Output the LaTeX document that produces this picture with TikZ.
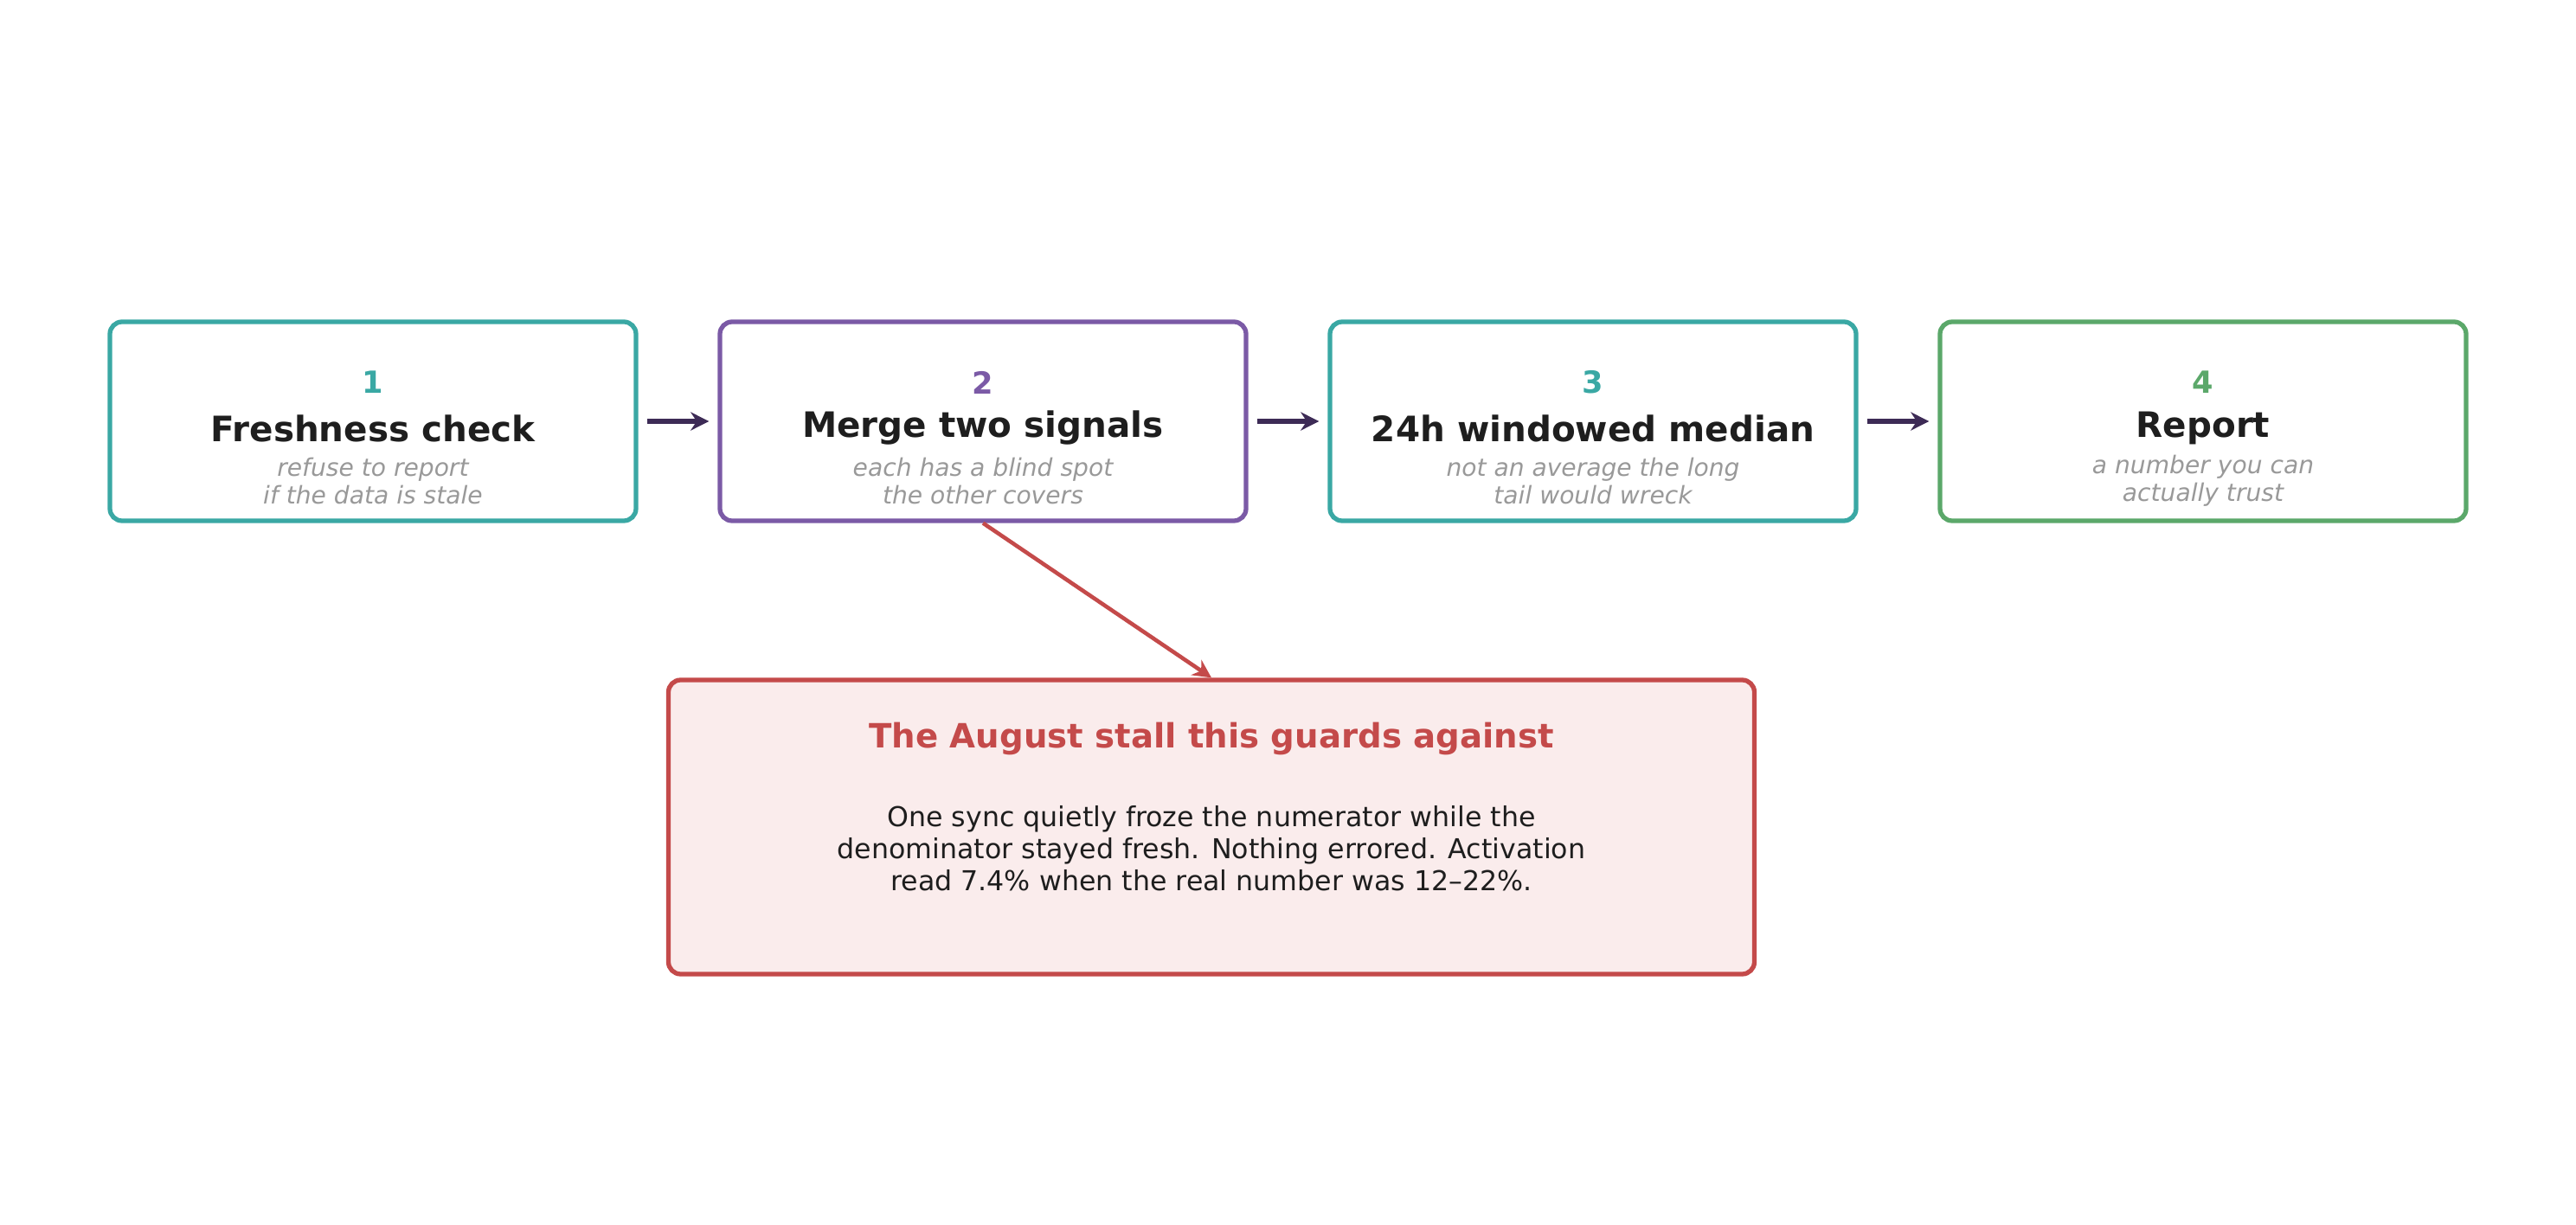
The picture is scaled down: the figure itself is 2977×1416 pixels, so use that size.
\documentclass[tikz,border=0pt]{standalone}
\usepackage{fontspec}
\setmainfont{DejaVu Sans}
\usetikzlibrary{arrows.meta}
\definecolor{teal}{HTML}{3AA8A4}
\definecolor{purp}{HTML}{7B5AA6}
\definecolor{grn}{HTML}{5BA86A}
\definecolor{redd}{HTML}{C44A4A}
\definecolor{pink}{HTML}{FAECEC}
\definecolor{dark}{HTML}{3D2B56}
\definecolor{txt}{HTML}{1E1E1E}
\definecolor{gry}{HTML}{999999}
\begin{document}
\begin{tikzpicture}[x=0.01cm,y=-0.01cm]

\tikzstyle{stage}=[draw,line width=1.5pt,rounded corners=4pt,minimum width=608*0.01cm,minimum height=230*0.01cm,fill=white]
\tikzstyle{num}=[font=\bfseries\fontsize{10}{12}\selectfont]
\tikzstyle{ttl}=[font=\bfseries\fontsize{11.5}{14}\selectfont,text=txt]
\tikzstyle{sub}=[font=\itshape\fontsize{8}{9}\selectfont,text=gry,align=center]
\tikzstyle{flow}=[line width=1.5pt,draw=dark,-{Stealth[length=6pt,width=6pt]}]

\useasboundingbox (0,0) rectangle (2977,1416);

\node[stage,draw=teal] (s1) at (431,487) {};
\node[stage,draw=purp] (s2) at (1136,487) {};
\node[stage,draw=teal] (s3) at (1841,487) {};
\node[stage,draw=grn] (s4) at (2546,487) {};

\node[num,text=teal] at (431,442) {1};
\node[ttl] at (431,495) {Freshness check};
\node[sub] at (431,556) {refuse to report\\if the data is stale};

\node[num,text=purp] at (1136,442) {2};
\node[ttl] at (1136,495) {Merge two signals};
\node[sub] at (1136,556) {each has a blind spot\\the other covers};

\node[num,text=teal] at (1841,442) {3};
\node[ttl] at (1841,495) {24h windowed median};
\node[sub] at (1841,556) {not an average the long\\tail would wreck};

\node[num,text=grn] at (2546,442) {4};
\node[ttl] at (2546,495) {Report};
\node[sub] at (2546,556) {a number you can\\actually trust};

\draw[flow] ([xshift=10*0.01cm]s1.east)--([xshift=-10*0.01cm]s2.west);
\draw[flow] ([xshift=10*0.01cm]s2.east)--([xshift=-10*0.01cm]s3.west);
\draw[flow] ([xshift=10*0.01cm]s3.east)--([xshift=-10*0.01cm]s4.west);

\node[draw=redd,fill=pink,line width=1.5pt,rounded corners=4pt,minimum width=1255*0.01cm,minimum height=340*0.01cm] (note) at (1400,956) {};
\node[font=\bfseries\fontsize{11}{13}\selectfont,text=redd] at (1400,854) {The August stall this guards against};
\node[font=\fontsize{9}{10.5}\selectfont,text=txt,align=center] at (1400,981) {One sync quietly froze the numerator while the\\denominator stayed fresh. Nothing errored. Activation\\read 7.4\% when the real number was 12–22\%.};

\draw[line width=1.3pt,draw=redd,-{Stealth[length=6pt,width=6pt]}] (s2.south)--(note.north);

\end{tikzpicture}
\end{document}
